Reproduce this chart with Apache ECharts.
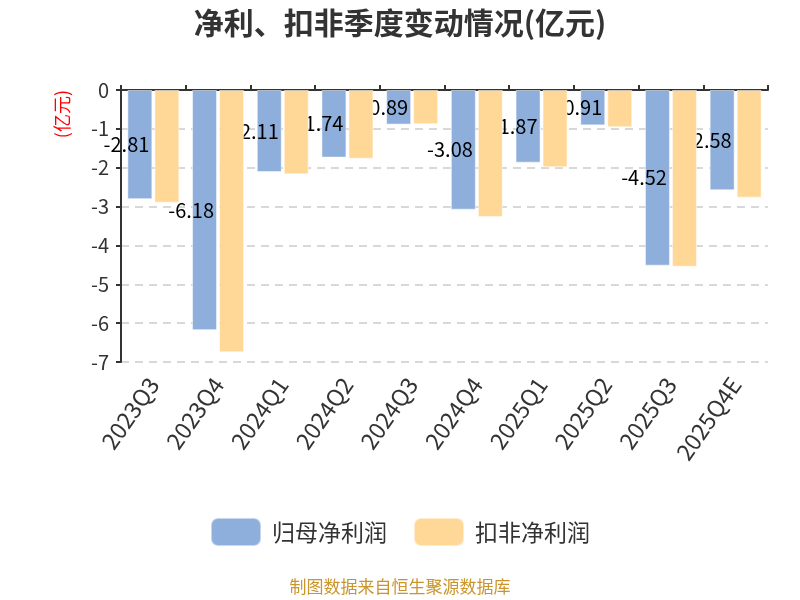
<!DOCTYPE html>
<html><head><meta charset="utf-8">
<script src="https://cdn.jsdelivr.net/npm/echarts@6/dist/echarts.min.js"></script>
<style>html,body{margin:0;padding:0;background:#fff}#c{width:800px;height:600px}</style>
</head><body><div id="c"></div>
<script>
const categories = ['2023Q3','2023Q4','2024Q1','2024Q2','2024Q3','2024Q4','2025Q1','2025Q2','2025Q3','2025Q4E'];
const netProfit = [-2.81,-6.18,-2.11,-1.74,-0.89,-3.08,-1.87,-0.91,-4.52,-2.58];
const deductedProfit = [-2.90,-6.75,-2.17,-1.77,-0.88,-3.27,-1.99,-0.96,-4.55,-2.77];
const yTicks = {min:-7, max:0, interval:1};
const font = '"Noto Sans CJK SC", "Noto Sans", sans-serif';
const chart = echarts.init(document.getElementById('c'));
chart.setOption({
  animation:false,
  textStyle:{fontFamily:font},
  title:{text:'净利、扣非季度变动情况(亿元)',left:'center',top:3,textStyle:{fontSize:30,fontWeight:'bold',color:'#333',fontFamily:font}},
  legend:{bottom:48,left:'center',itemWidth:50,itemHeight:28,itemGap:26,textStyle:{fontSize:23,color:'#333',fontFamily:font,padding:[0,0,0,6]},data:['归母净利润','扣非净利润']},
  graphic:[{type:'text',left:'center',top:578,style:{text:'制图数据来自恒生聚源数据库',fill:'#c9952c',fontSize:17,fontFamily:font}}],
  grid:{left:121,right:32,top:90,bottom:238},
  xAxis:[
    {type:'category',data:categories,position:'bottom',axisLine:{show:false},axisTick:{show:false},
     axisLabel:{rotate:55,fontSize:23,color:'#333',margin:18,fontFamily:font},splitLine:{show:false}},
    {type:'category',data:categories,position:'top',axisLine:{show:true,lineStyle:{color:'#333',width:2}},
     axisTick:{show:true,length:5,lineStyle:{color:'#333',width:2}},axisLabel:{show:false}}
  ],
  yAxis:{type:'value',min:yTicks.min,max:yTicks.max,interval:yTicks.interval,name:'(亿元)',nameLocation:'end',
    nameRotate:90,nameGap:0,nameTextStyle:{color:'#ff0000',fontSize:18,align:'right',verticalAlign:'bottom',padding:[0,0,50,0]},
    axisLine:{show:true,lineStyle:{color:'#333',width:2}},axisTick:{show:true,length:5,lineStyle:{color:'#333',width:2}},
    axisLabel:{fontSize:20,color:'#333',margin:12},
    splitLine:{lineStyle:{type:[8,6],color:'#ccc',width:1.5}}},
  series:[
    {name:'归母净利润',type:'bar',data:netProfit,barWidth:25,barGap:'8%',z:2,
     itemStyle:{color:'#8eaedb',borderColor:'rgba(255,255,255,0.5)',borderWidth:1},
     label:{show:true,position:'insideRight',distance:3,color:'#000',fontSize:20}},
    {name:'扣非净利润',type:'bar',data:deductedProfit,barWidth:25,z:3,
     itemStyle:{color:'#ffd898',borderColor:'rgba(255,255,255,0.5)',borderWidth:1}}
  ]
});
</script></body></html>
